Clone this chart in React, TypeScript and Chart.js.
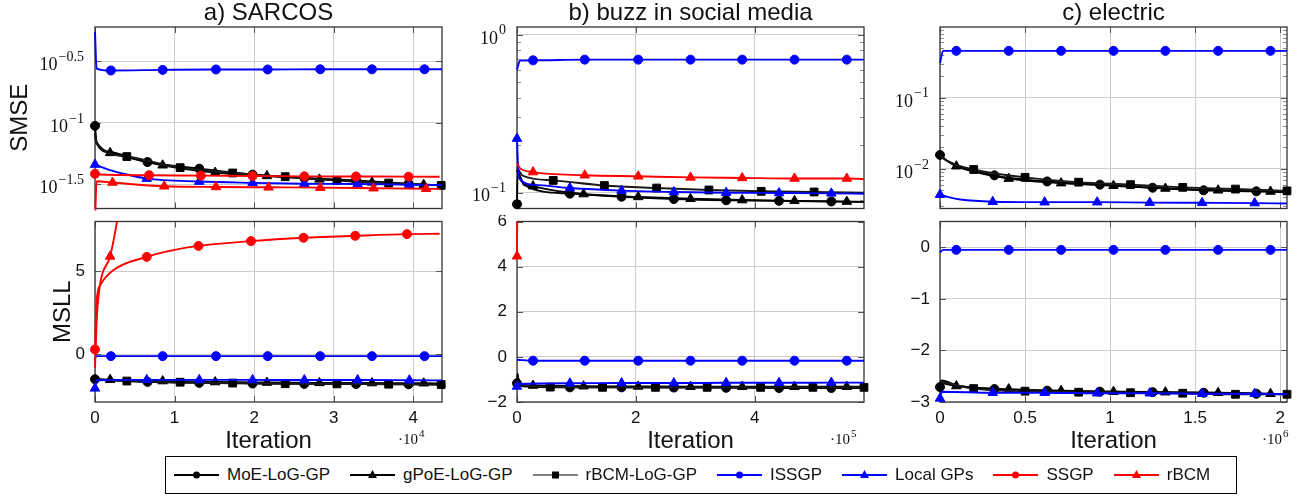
import React, { useEffect, useRef } from 'react';
import { Chart, registerables } from 'chart.js';

Chart.register(...registerables);

type Pt = [number, number, number]; // [x, y, marker shown]

// ---------- names / labels ----------
const SERIES_NAMES = ['MoE-LoG-GP', 'gPoE-LoG-GP', 'rBCM-LoG-GP', 'ISSGP', 'Local GPs', 'SSGP', 'rBCM'];
const PANEL_TITLES = ['a) SARCOS', 'b) buzz in social media', 'c) electric'];
const Y_TITLES = ['SMSE', 'MSLL'];
const X_TITLE = 'Iteration';
const X_EXPONENTS = [4, 5, 6];

// ---------- ticks ----------
const X_TICKS_A = [0, 1, 2, 3, 4];
const X_TICKS_B = [0, 2, 4];
const X_TICKS_C = [0, 0.5, 1, 1.5, 2];
const X_MAX = [4.36, 5.84, 2.04];

const SMSE_EXP_A = [-1.5, -1, -0.5];
const SMSE_EXP_B = [-1, 0];
const SMSE_EXP_C = [-2, -1];
const SMSE_RANGE_A = [0.0201, 0.603];
const SMSE_RANGE_B = [0.0794, 1.12];
const SMSE_RANGE_C = [0.00277, 0.99];
const SMSE_MINOR_B = [0.08, 0.09, 0.2, 0.3, 0.4, 0.5, 0.6, 0.7, 0.8, 0.9];
const SMSE_MINOR_C = [0.003, 0.004, 0.005, 0.006, 0.007, 0.008, 0.009, 0.02, 0.03, 0.04, 0.05, 0.06, 0.07, 0.08, 0.09, 0.2, 0.3, 0.4, 0.5, 0.6, 0.7, 0.8, 0.9];

const MSLL_TICKS_A = [0, 5];
const MSLL_TICKS_B = [-2, 0, 2, 4, 6];
const MSLL_TICKS_C = [-3, -2, -1, 0];
const MSLL_RANGE_A = [-2.86, 8];
const MSLL_RANGE_B = [-2, 6];
const MSLL_RANGE_C = [-3, 0.5];

// ---------- a) SARCOS (x in 1e4) ----------
const A_SMSE_MOE: Pt[] = [[0, 0.0946, 1], [0.02, 0.07, 0], [0.2, 0.058, 0], [0.66, 0.048, 1], [1.31, 0.0424, 1], [1.98, 0.0379, 1], [2.63, 0.0356, 1], [3.28, 0.034, 1], [3.94, 0.032, 1], [4.36, 0.031, 0]];
const A_SMSE_GPOE: Pt[] = [[0, 0.082, 0], [0.02, 0.068, 0], [0.19, 0.057, 1], [0.85, 0.0452, 1], [1.51, 0.0394, 1], [2.16, 0.037, 1], [2.82, 0.0347, 1], [3.48, 0.0328, 1], [4.13, 0.0314, 1], [4.36, 0.031, 0]];
const A_SMSE_RBCMLOG: Pt[] = [[0, 0.082, 0], [0.02, 0.069, 0], [0.4, 0.0532, 1], [1.07, 0.0432, 1], [1.73, 0.0391, 1], [2.39, 0.0365, 1], [3.04, 0.034, 1], [3.69, 0.0324, 1], [4.35, 0.031, 1]];
const A_SMSE_ISSGP: Pt[] = [[0, 0.55, 0], [0.02, 0.277, 0], [0.2, 0.267, 1], [0.85, 0.27, 1], [1.52, 0.272, 1], [2.17, 0.272, 1], [2.83, 0.273, 1], [3.48, 0.273, 1], [4.14, 0.273, 1], [4.36, 0.273, 0]];
const A_SMSE_LOCAL: Pt[] = [[0, 0.0458, 1], [0.2, 0.041, 0], [0.4, 0.038, 0], [0.65, 0.0352, 1], [1.31, 0.0333, 1], [1.98, 0.0325, 1], [2.63, 0.032, 1], [3.3, 0.0318, 1], [3.95, 0.0314, 1], [4.36, 0.0312, 0]];
const A_SMSE_SSGP: Pt[] = [[0, 0.0385, 1], [0.05, 0.038, 0], [0.68, 0.0375, 1], [1.33, 0.0372, 1], [1.98, 0.037, 1], [2.63, 0.0367, 1], [3.28, 0.0366, 1], [3.94, 0.0365, 1], [4.33, 0.0364, 0]];
const A_SMSE_RBCM: Pt[] = [[0, 0.015, 0], [0.02, 0.0335, 0], [0.22, 0.0327, 1], [0.87, 0.0305, 1], [1.52, 0.0301, 1], [2.18, 0.0299, 1], [2.83, 0.0297, 1], [3.5, 0.0294, 1], [4.16, 0.0291, 1], [4.33, 0.029, 0]];

const A_MSLL_MOE: Pt[] = [[0, -1.49, 1], [0.66, -1.65, 1], [1.31, -1.71, 1], [1.98, -1.75, 1], [2.63, -1.77, 1], [3.28, -1.78, 1], [3.94, -1.79, 1], [4.36, -1.81, 0]];
const A_MSLL_GPOE: Pt[] = [[0, -1.5, 0], [0.19, -1.52, 1], [0.85, -1.6, 1], [1.51, -1.66, 1], [2.16, -1.69, 1], [2.82, -1.71, 1], [3.48, -1.72, 1], [4.13, -1.73, 1], [4.36, -1.74, 0]];
const A_MSLL_RBCMLOG: Pt[] = [[0, -1.5, 0], [0.4, -1.6, 1], [1.07, -1.67, 1], [1.73, -1.72, 1], [2.39, -1.76, 1], [3.04, -1.77, 1], [3.69, -1.79, 1], [4.35, -1.81, 1]];
const A_MSLL_ISSGP: Pt[] = [[0, -0.2, 0], [0.02, -0.1, 0], [0.2, -0.1, 1], [0.85, -0.1, 1], [1.52, -0.1, 1], [2.17, -0.1, 1], [2.83, -0.1, 1], [3.48, -0.1, 1], [4.14, -0.1, 1], [4.36, -0.1, 0]];
const A_MSLL_LOCAL: Pt[] = [[0, -2.04, 1], [0.02, -1.55, 0], [0.65, -1.53, 1], [1.31, -1.53, 1], [1.98, -1.53, 1], [2.63, -1.54, 1], [3.3, -1.54, 1], [3.95, -1.55, 1], [4.36, -1.56, 0]];
const A_MSLL_SSGP: Pt[] = [[0, 0.3, 1], [0.02, 3.2, 0], [0.07, 4.2, 0], [0.24, 5.1, 0], [0.65, 5.87, 1], [1.0, 6.29, 0], [1.3, 6.53, 1], [1.96, 6.82, 1], [2.62, 7.02, 1], [3.27, 7.14, 1], [3.92, 7.24, 1], [4.33, 7.26, 0]];
const A_MSLL_RBCM: Pt[] = [[0, -0.8, 0], [0.03, 2.8, 0], [0.19, 5.9, 1], [0.3, 8.6, 0]];

// ---------- b) buzz in social media (x in 1e5) ----------
const B_SMSE_MOE: Pt[] = [[0, 0.0845, 1], [0.01, 0.135, 0], [0.12, 0.112, 0], [0.89, 0.0986, 1], [1.76, 0.0943, 1], [2.64, 0.0912, 1], [3.52, 0.0895, 1], [4.41, 0.0888, 1], [5.29, 0.088, 1], [5.84, 0.0875, 0]];
const B_SMSE_GPOE: Pt[] = [[0, 0.14, 0], [0.03, 0.125, 0], [0.27, 0.11, 1], [1.12, 0.098, 1], [2.04, 0.094, 1], [2.92, 0.0915, 1], [3.79, 0.0898, 1], [4.67, 0.0888, 1], [5.55, 0.0878, 1], [5.84, 0.0875, 0]];
const B_SMSE_RBCMLOG: Pt[] = [[0, 0.145, 0], [0.1, 0.128, 0], [0.61, 0.1196, 1], [1.47, 0.111, 1], [2.35, 0.107, 1], [3.23, 0.104, 1], [4.11, 0.102, 1], [5.0, 0.101, 1], [5.84, 0.1, 0]];
const B_SMSE_ISSGP: Pt[] = [[0, 0.6, 0], [0.05, 0.686, 0], [0.27, 0.689, 1], [1.14, 0.696, 1], [2.04, 0.696, 1], [2.92, 0.696, 1], [3.79, 0.696, 1], [4.67, 0.696, 1], [5.55, 0.696, 1], [5.84, 0.696, 0]];
const B_SMSE_LOCAL: Pt[] = [[0, 0.22, 1], [0.03, 0.125, 0], [0.3, 0.112, 0], [0.89, 0.107, 1], [1.76, 0.103, 1], [2.64, 0.101, 1], [3.52, 0.1, 1], [4.41, 0.0995, 1], [5.29, 0.099, 1], [5.84, 0.0985, 0]];
const B_SMSE_RBCM: Pt[] = [[0, 0.154, 0], [0.05, 0.143, 0], [0.27, 0.135, 1], [1.14, 0.129, 1], [2.04, 0.127, 1], [2.92, 0.125, 1], [3.79, 0.124, 1], [4.67, 0.123, 1], [5.55, 0.123, 1], [5.84, 0.122, 0]];

const B_MSLL_MOE: Pt[] = [[0, -1.17, 1], [0.1, -1.3, 0], [0.89, -1.35, 1], [1.76, -1.35, 1], [2.64, -1.36, 1], [3.52, -1.37, 1], [4.41, -1.38, 1], [5.29, -1.38, 1], [5.84, -1.38, 0]];
const B_MSLL_GPOE: Pt[] = [[0, -1.2, 0], [0.01, -0.75, 0], [0.04, -1.22, 0], [0.27, -1.27, 1], [1.12, -1.3, 1], [2.04, -1.31, 1], [2.92, -1.32, 1], [3.79, -1.32, 1], [4.67, -1.32, 1], [5.55, -1.32, 1], [5.84, -1.32, 0]];
const B_MSLL_RBCMLOG: Pt[] = [[0, -1.25, 0], [0.56, -1.34, 1], [1.44, -1.35, 1], [2.33, -1.35, 1], [3.2, -1.35, 1], [4.1, -1.35, 1], [4.98, -1.35, 1], [5.84, -1.35, 1]];
const B_MSLL_ISSGP: Pt[] = [[0, -0.13, 0], [0.27, -0.17, 1], [1.14, -0.17, 1], [2.04, -0.17, 1], [2.92, -0.17, 1], [3.79, -0.17, 1], [4.67, -0.17, 1], [5.55, -0.17, 1], [5.84, -0.17, 0]];
const B_MSLL_LOCAL: Pt[] = [[0, -1.31, 1], [0.02, -1.2, 0], [0.89, -1.17, 1], [1.76, -1.16, 1], [2.64, -1.16, 1], [3.52, -1.15, 1], [4.41, -1.15, 1], [5.29, -1.14, 1], [5.84, -1.14, 0]];
const B_MSLL_RBCM: Pt[] = [[0, 4.46, 1], [0.01, 9, 0]];

// ---------- c) electric (x in 1e6) ----------
const C_SMSE_MOE: Pt[] = [[0, 0.0157, 1], [0.04, 0.0131, 0], [0.32, 0.0081, 1], [0.63, 0.00665, 1], [0.94, 0.006, 1], [1.25, 0.00543, 1], [1.55, 0.005, 1], [1.86, 0.00483, 1], [2.04, 0.0047, 0]];
const C_SMSE_GPOE: Pt[] = [[0, 0.0155, 0], [0.04, 0.013, 0], [0.096, 0.0109, 1], [0.404, 0.0073, 1], [0.712, 0.0063, 1], [1.02, 0.0058, 1], [1.325, 0.0053, 1], [1.635, 0.005, 1], [1.943, 0.0048, 1], [2.04, 0.0047, 0]];
const C_SMSE_RBCMLOG: Pt[] = [[0, 0.0155, 0], [0.04, 0.013, 0], [0.198, 0.0098, 1], [0.5, 0.0076, 1], [0.815, 0.0065, 1], [1.12, 0.006, 1], [1.427, 0.0055, 1], [1.737, 0.0052, 1], [2.04, 0.0049, 1]];
const C_SMSE_ISSGP: Pt[] = [[0, 0.308, 0], [0.018, 0.457, 0], [0.096, 0.457, 1], [0.404, 0.457, 1], [0.712, 0.457, 1], [1.02, 0.457, 1], [1.325, 0.457, 1], [1.635, 0.457, 1], [1.943, 0.457, 1], [2.04, 0.457, 0]];
const C_SMSE_LOCAL: Pt[] = [[0, 0.00434, 1], [0.05, 0.004, 0], [0.12, 0.0037, 0], [0.31, 0.00345, 1], [0.615, 0.0034, 1], [0.924, 0.0034, 1], [1.233, 0.00335, 1], [1.541, 0.00333, 1], [1.85, 0.0033, 1], [2.04, 0.00325, 0]];

const C_MSLL_MOE: Pt[] = [[0, -2.71, 1], [0.01, -2.58, 0], [0.1, -2.68, 0], [0.32, -2.75, 1], [0.63, -2.78, 1], [0.94, -2.8, 1], [1.25, -2.81, 1], [1.55, -2.82, 1], [1.86, -2.84, 1], [2.04, -2.85, 0]];
const C_MSLL_GPOE: Pt[] = [[0, -2.62, 0], [0.096, -2.69, 1], [0.404, -2.75, 1], [0.712, -2.78, 1], [1.02, -2.8, 1], [1.325, -2.81, 1], [1.635, -2.82, 1], [1.943, -2.84, 1], [2.04, -2.85, 0]];
const C_MSLL_RBCMLOG: Pt[] = [[0, -2.6, 0], [0.198, -2.74, 1], [0.5, -2.79, 1], [0.815, -2.81, 1], [1.12, -2.82, 1], [1.427, -2.83, 1], [1.737, -2.85, 1], [2.04, -2.85, 1]];
const C_MSLL_ISSGP: Pt[] = [[0, -0.1, 0], [0.018, -0.05, 0], [0.096, -0.05, 1], [0.404, -0.05, 1], [0.712, -0.05, 1], [1.02, -0.05, 1], [1.325, -0.05, 1], [1.635, -0.05, 1], [1.943, -0.05, 1], [2.04, -0.05, 0]];
const C_MSLL_LOCAL: Pt[] = [[0, -2.93, 1], [0.01, -2.8, 0], [0.31, -2.82, 1], [0.615, -2.82, 1], [0.924, -2.83, 1], [1.233, -2.83, 1], [1.541, -2.84, 1], [1.85, -2.84, 1], [2.04, -2.85, 0]];

// ---------- styles ----------
const SANS = "'Liberation Sans', Arial, Helvetica, sans-serif";
const SERIF = "'Liberation Serif', 'DejaVu Serif', serif";
const TEXT = '#111111';
const GRID = '#cccccc';
const LINE_COLORS = ['#000000', '#000000', '#1a1a1a', '#0000ff', '#0000ff', '#ff0000', '#ff0000'];
const MARK_COLORS = ['#000000', '#000000', '#000000', '#0000ff', '#0000ff', '#ff0000', '#ff0000'];
const LEGEND_LINE = ['#000000', '#000000', '#808080', '#0000ff', '#0000ff', '#ff0000', '#ff0000'];
const POINT_STYLES = ['circle', 'triangle', 'rect', 'circle', 'triangle', 'circle', 'triangle'];
const POINT_RADII = [4.5, 5.5, 5.5, 4.5, 5.5, 4.5, 5.5];

const COLS = [
  { left: 95, right: 442, canvasLeft: 0, expDx: -44, yTitlePad: [5.6, 48.6] },
  { left: 517, right: 864, canvasLeft: 440, expDx: -34, yTitlePad: [0, 0] },
  { left: 940, right: 1287, canvasLeft: 865, expDx: -25, yTitlePad: [0, 0] },
];
const ROWS = [
  { canvasTop: 0, top: 27, bottom: 210, padB: 5 },
  { canvasTop: 215, top: 220, bottom: 402, padB: 50 },
];

interface PanelSpec {
  col: number;
  row: number;
  series: (Pt[] | null)[];
  xTicks: number[];
  yLog: boolean;
  yRange: number[];
  yTicks: number[];
  minor?: number[];
}

const PANELS: PanelSpec[] = [
  { col: 0, row: 0, yLog: true, yRange: SMSE_RANGE_A, yTicks: SMSE_EXP_A, xTicks: X_TICKS_A,
    series: [A_SMSE_MOE, A_SMSE_GPOE, A_SMSE_RBCMLOG, A_SMSE_ISSGP, A_SMSE_LOCAL, A_SMSE_SSGP, A_SMSE_RBCM] },
  { col: 1, row: 0, yLog: true, yRange: SMSE_RANGE_B, yTicks: SMSE_EXP_B, xTicks: X_TICKS_B, minor: SMSE_MINOR_B,
    series: [B_SMSE_MOE, B_SMSE_GPOE, B_SMSE_RBCMLOG, B_SMSE_ISSGP, B_SMSE_LOCAL, null, B_SMSE_RBCM] },
  { col: 2, row: 0, yLog: true, yRange: SMSE_RANGE_C, yTicks: SMSE_EXP_C, xTicks: X_TICKS_C, minor: SMSE_MINOR_C,
    series: [C_SMSE_MOE, C_SMSE_GPOE, C_SMSE_RBCMLOG, C_SMSE_ISSGP, C_SMSE_LOCAL, null, null] },
  { col: 0, row: 1, yLog: false, yRange: MSLL_RANGE_A, yTicks: MSLL_TICKS_A, xTicks: X_TICKS_A,
    series: [A_MSLL_MOE, A_MSLL_GPOE, A_MSLL_RBCMLOG, A_MSLL_ISSGP, A_MSLL_LOCAL, A_MSLL_SSGP, A_MSLL_RBCM] },
  { col: 1, row: 1, yLog: false, yRange: MSLL_RANGE_B, yTicks: MSLL_TICKS_B, xTicks: X_TICKS_B,
    series: [B_MSLL_MOE, B_MSLL_GPOE, B_MSLL_RBCMLOG, B_MSLL_ISSGP, B_MSLL_LOCAL, null, B_MSLL_RBCM] },
  { col: 2, row: 1, yLog: false, yRange: MSLL_RANGE_C, yTicks: MSLL_TICKS_C, xTicks: X_TICKS_C,
    series: [C_MSLL_MOE, C_MSLL_GPOE, C_MSLL_RBCMLOG, C_MSLL_ISSGP, C_MSLL_LOCAL, null, null] },
];

const fmtNum = (v: number) => (v < 0 ? '\u2212' + Math.abs(v) : String(v));

const decorPlugin = {
  id: 'decor',
  beforeDatasetsDraw(chart: any, _args: any, o: any) {
    const { ctx, chartArea: a } = chart;
    const ys = chart.scales.y;
    const xs = chart.scales.x;
    ctx.save();
    ctx.lineWidth = 1;
    ctx.strokeStyle = '#8a8a8a';
    (o.minor || []).forEach((v: number) => {
      const y = Math.round(ys.getPixelForValue(v)) + 0.5;
      if (y < a.top || y > a.bottom) return;
      ctx.beginPath();
      ctx.moveTo(a.left, y); ctx.lineTo(a.left + 4, y);
      ctx.moveTo(a.right - 4, y); ctx.lineTo(a.right, y);
      ctx.stroke();
    });
    ctx.strokeStyle = '#555555';
    ys.ticks.forEach((t: any) => {
      const y = Math.round(ys.getPixelForValue(t.value)) + 0.5;
      ctx.beginPath();
      ctx.moveTo(a.left, y); ctx.lineTo(a.left + 6, y);
      ctx.moveTo(a.right - 6, y); ctx.lineTo(a.right, y);
      ctx.stroke();
    });
    xs.ticks.forEach((t: any) => {
      const x = Math.round(xs.getPixelForValue(t.value)) + 0.5;
      ctx.beginPath();
      ctx.moveTo(x, a.top); ctx.lineTo(x, a.top + 6);
      ctx.moveTo(x, a.bottom - 6); ctx.lineTo(x, a.bottom);
      ctx.stroke();
    });
    ctx.strokeStyle = '#333333';
    ctx.lineWidth = 1.3;
    ctx.strokeRect(a.left, a.top, a.right - a.left, a.bottom - a.top);
    ctx.restore();
  },
  afterDraw(chart: any, _args: any, o: any) {
    const { ctx, chartArea: a } = chart;
    ctx.save();
    ctx.fillStyle = TEXT;
    if (o.logExp) {
      const ys = chart.scales.y;
      (o.logExp as number[]).forEach((e: number) => {
        const y = ys.getPixelForValue(Math.pow(10, e));
        const sup = (e < 0 ? '\u2212' : '') + Math.abs(e);
        const xr = a.left - 11;
        ctx.textAlign = 'right';
        ctx.textBaseline = 'middle';
        ctx.font = `14px ${SERIF}`;
        ctx.fillText(sup, xr, y - 4);
        const w = ctx.measureText(sup).width;
        ctx.font = `18px ${SERIF}`;
        ctx.fillText('10', xr - w - 1, y + 4);
      });
    }
    if (o.expLabel !== undefined && o.expLabel !== null) {
      const x0 = a.right + o.expDx;
      const y0 = a.bottom + 38;
      ctx.textAlign = 'left';
      ctx.textBaseline = 'middle';
      ctx.font = `15px ${SERIF}`;
      ctx.fillText('\u00b710', x0, y0);
      const w = ctx.measureText('\u00b710').width;
      ctx.font = `11px ${SERIF}`;
      ctx.fillText(String(o.expLabel), x0 + w + 1, y0 - 6);
    }
    ctx.restore();
  },
};

function Panel({ spec }: { spec: PanelSpec }) {
  const ref = useRef<HTMLCanvasElement>(null);
  const col = COLS[spec.col];
  const row = ROWS[spec.row];
  const width = col.right + 10 - col.canvasLeft;
  const height = row.bottom + row.padB - row.canvasTop;
  const padL = col.left - col.canvasLeft;
  const isTop = spec.row === 0;

  useEffect(() => {
    const datasets: any[] = [];
    spec.series.forEach((pts, i) => {
      if (!pts) return;
      datasets.push({
        label: SERIES_NAMES[i],
        data: pts.map((p) => ({ x: p[0], y: p[1] })),
        borderColor: LINE_COLORS[i],
        backgroundColor: MARK_COLORS[i],
        pointBackgroundColor: MARK_COLORS[i],
        pointBorderColor: MARK_COLORS[i],
        pointBorderWidth: 1,
        borderWidth: 1.9,
        pointStyle: POINT_STYLES[i],
        pointRadius: pts.map((p) => (p[2] ? POINT_RADII[i] : 0)),
        cubicInterpolationMode: 'monotone',
        fill: false,
        order: 10 - i,
        clip: { left: 12, right: 12, top: 0, bottom: 2 },
      });
    });

    const yTicksValues = spec.yLog ? spec.yTicks.map((e) => Math.pow(10, e)) : spec.yTicks;

    const chart = new Chart(ref.current as HTMLCanvasElement, {
      type: 'line',
      data: { datasets },
      plugins: [decorPlugin as any],
      options: {
        responsive: false,
        animation: false,
        events: [],
        layout: { padding: { top: isTop ? 0 : row.top - row.canvasTop, right: 10, bottom: 0, left: 0 } },
        scales: {
          x: {
            type: 'linear',
            min: 0,
            max: X_MAX[spec.col],
            afterBuildTicks: (s: any) => { s.ticks = spec.xTicks.map((v) => ({ value: v })); },
            afterFit: (s: any) => { s.height = row.padB; s.paddingLeft = 0; s.paddingRight = 0; },
            grid: { color: GRID, lineWidth: 1, drawTicks: false },
            border: { display: false },
            ticks: {
              display: !isTop,
              padding: 6,
              autoSkip: false,
              maxRotation: 0,
              color: TEXT,
              font: { family: SANS, size: 17 },
              callback: (v: any) => fmtNum(Number(v)),
            },
            title: {
              display: !isTop,
              text: X_TITLE,
              color: TEXT,
              font: { family: SANS, size: 24, lineHeight: 1 },
              padding: { top: 0, bottom: -1 },
            },
          },
          y: {
            type: spec.yLog ? 'logarithmic' : 'linear',
            min: spec.yRange[0],
            max: spec.yRange[1],
            afterBuildTicks: (s: any) => { s.ticks = yTicksValues.map((v) => ({ value: v })); },
            afterFit: (s: any) => { s.width = padL; s.paddingTop = 0; s.paddingBottom = 0; },
            grid: { color: GRID, lineWidth: 1, drawTicks: false },
            border: { display: false },
            ticks: {
              display: !spec.yLog,
              padding: 10,
              color: TEXT,
              font: { family: SANS, size: 17 },
              callback: (v: any) => fmtNum(Number(v)),
            },
            title: {
              display: spec.col === 0,
              text: Y_TITLES[spec.row],
              color: TEXT,
              font: { family: SANS, size: 24 },
              padding: { top: col.yTitlePad[spec.row], bottom: 0 },
            },
          } as any,
        },
        plugins: {
          legend: { display: false },
          tooltip: { enabled: false },
          title: {
            display: isTop,
            text: PANEL_TITLES[spec.col],
            color: TEXT,
            fullSize: false,
            font: { family: SANS, size: 24, weight: 'normal', lineHeight: 1.125 },
            padding: 0,
          },
          decor: {
            logExp: spec.yLog ? spec.yTicks : null,
            minor: spec.minor || [],
            expLabel: isTop ? null : X_EXPONENTS[spec.col],
            expDx: col.expDx,
          },
        } as any,
      } as any,
    });
    return () => chart.destroy();
  }, []);

  return (
    <canvas
      ref={ref}
      width={width}
      height={height}
      style={{ position: 'absolute', left: col.canvasLeft, top: row.canvasTop, width, height }}
    />
  );
}

function LegendMark({ i }: { i: number }) {
  const c = MARK_COLORS[i];
  const st = POINT_STYLES[i];
  return (
    <svg width={45} height={16} style={{ display: 'block' }}>
      <line x1={0} y1={8} x2={45} y2={8} stroke={LEGEND_LINE[i]} strokeWidth={2} />
      {st === 'circle' && <circle cx={22.5} cy={8} r={3.5} fill={c} />}
      {st === 'triangle' && <polygon points="22.5,3 27,11 18,11" fill={c} />}
      {st === 'rect' && <rect x={19} y={4.5} width={7} height={7} fill={c} />}
    </svg>
  );
}

export default function App() {
  return (
    <div style={{ position: 'absolute', left: 0, top: 0, width: 1300, height: 499, background: '#fff', overflow: 'hidden' }}>
      {PANELS.map((p, i) => (
        <Panel key={i} spec={p} />
      ))}
      <div
        style={{
          position: 'absolute', left: 165, top: 456, width: 1072, height: 38,
          border: '1px solid #000', boxSizing: 'border-box', display: 'flex', alignItems: 'center',
          paddingLeft: 8, fontFamily: SANS, fontSize: 17, color: TEXT, whiteSpace: 'nowrap',
        }}
      >
        {SERIES_NAMES.map((n, i) => (
          <div key={n} style={{ display: 'flex', alignItems: 'center', marginRight: 20 }}>
            <LegendMark i={i} />
            <span style={{ marginLeft: 8 }}>{n}</span>
          </div>
        ))}
      </div>
    </div>
  );
}
